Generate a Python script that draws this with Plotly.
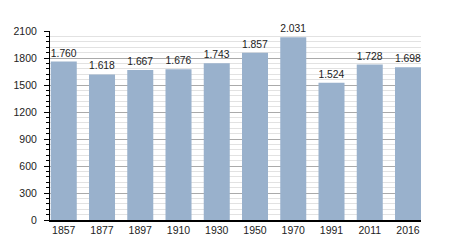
import plotly.graph_objects as go

years = ["1857", "1877", "1897", "1910", "1930", "1950", "1970", "1991", "2011", "2016"]
population = [1760, 1618, 1667, 1676, 1743, 1857, 2031, 1524, 1728, 1698]
value_labels = ["1.760", "1.618", "1.667", "1.676", "1.743", "1.857", "2.031", "1.524", "1.728", "1.698"]
y_ticks = [0, 300, 600, 900, 1200, 1500, 1800, 2100]

bar_w = 0.68
idx = list(range(len(years)))

fig = go.Figure(go.Bar(
    x=idx, y=population, width=bar_w, offset=0,
    marker=dict(color="#99b1cc", line=dict(width=0)),
    text=value_labels, textposition="outside", cliponaxis=False,
    textfont=dict(family="Liberation Sans, Arial", size=10.5, color="#222"),
))

fig.update_layout(
    width=450, height=250,
    margin=dict(l=50, r=29, t=31, b=30),
    paper_bgcolor="white", plot_bgcolor="white",
    showlegend=False,
    font=dict(family="Liberation Sans, Arial", size=10.5, color="#222"),
    xaxis=dict(
        range=[-0.02, len(years) - 1 + bar_w], tickmode="array",
        tickvals=[i + bar_w / 2 for i in idx], ticktext=years,
        showgrid=False, zeroline=False, showline=True, linecolor="black", linewidth=1.5,
        ticks="", fixedrange=True,
    ),
    yaxis=dict(
        range=[0, 2100], tickmode="array", tickvals=y_ticks,
        showline=True, linecolor="black", linewidth=1, zeroline=False,
        ticks="outside", ticklen=5, tickcolor="black", ticklabelstandoff=5,
        showgrid=True, gridcolor="#aaaaaa", gridwidth=1,
        minor=dict(dtick=60, tick0=0, ticks="outside", ticklen=3, tickcolor="black",
                   showgrid=True, gridcolor="#e2e2e2", gridwidth=1),
    ),
)

fig.write_html("out.html")
